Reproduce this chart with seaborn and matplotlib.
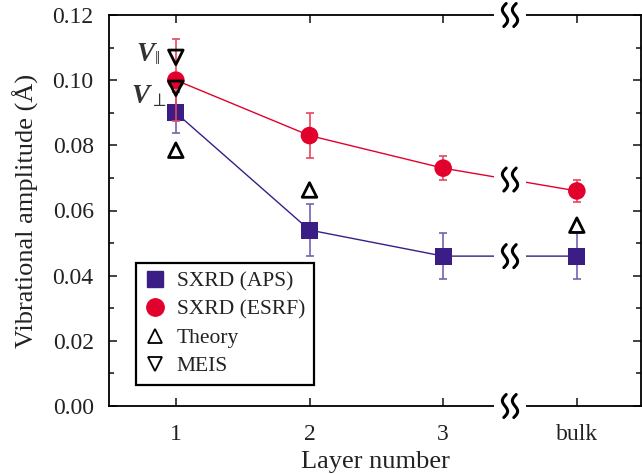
import matplotlib
matplotlib.use("Agg")
import matplotlib.pyplot as plt
import matplotlib.transforms as mtransforms
from matplotlib.lines import Line2D
from matplotlib.ticker import MultipleLocator, FormatStrFormatter
import numpy as np
import seaborn as sns

# Data
layer_labels = ["1", "2", "3", "bulk"]
layer_pos = [1, 2, 3, 4]
aps_amp = [0.090, 0.054, 0.046, 0.046]
aps_err = [0.0063, 0.008, 0.007, 0.007]
esrf_amp = [0.100, 0.083, 0.073, 0.066]
esrf_err = [0.0126, 0.007, 0.0037, 0.0035]
theory_pos = [1, 2, 4]
theory_amp = [0.0785, 0.0663, 0.0555]
meis_pos = [1, 1]
meis_amp = [0.107, 0.0975]

APS_COLOR = "#3b1d86"
APS_ERR_COLOR = "#7462b2"
ESRF_COLOR = "#e2002d"
ESRF_ERR_COLOR = "#e8475f"
TEXT_COLOR = "#222222"
BREAK_X = 3.5

sns.set_theme(style="ticks")
plt.rcParams["font.family"] = ["Liberation Serif", "DejaVu Serif"]
plt.rcParams["mathtext.fontset"] = "custom"
plt.rcParams["mathtext.rm"] = "Liberation Serif"
plt.rcParams["mathtext.it"] = "Liberation Serif:italic"
plt.rcParams["mathtext.bf"] = "Liberation Serif:bold"
plt.rcParams["mathtext.bfit"] = "Liberation Serif:italic:bold"
plt.rcParams["text.color"] = TEXT_COLOR
plt.rcParams["axes.labelcolor"] = TEXT_COLOR
plt.rcParams["xtick.color"] = TEXT_COLOR
plt.rcParams["ytick.color"] = TEXT_COLOR

fig = plt.figure(figsize=(6.42, 4.74), dpi=100)
ax = fig.add_axes([109 / 642, 1 - 406 / 474, 532 / 642, 391 / 474])

# connecting lines
sns.lineplot(x=layer_pos, y=aps_amp, ax=ax, color=APS_COLOR, linewidth=1.0, zorder=2)
sns.lineplot(x=layer_pos, y=esrf_amp, ax=ax, color=ESRF_COLOR, linewidth=1.0, zorder=2)

# white band for the axis break
ax.axvspan(BREAK_X - 0.123, BREAK_X + 0.123, ymin=-0.02, ymax=1.02, color="white",
           zorder=2.7, clip_on=False, linewidth=0)

ax.errorbar(layer_pos, aps_amp, yerr=aps_err, fmt="none", ecolor=APS_ERR_COLOR,
            elinewidth=1.2, capsize=3, capthick=1.2, zorder=3)
sns.scatterplot(x=layer_pos, y=aps_amp, ax=ax, marker="s", s=150, color=APS_COLOR,
                edgecolor="none", zorder=4)
ax.errorbar(layer_pos, esrf_amp, yerr=esrf_err, fmt="none", ecolor=ESRF_ERR_COLOR,
            elinewidth=1.2, capsize=3, capthick=1.2, zorder=5)
sns.scatterplot(x=layer_pos, y=esrf_amp, ax=ax, marker="o", s=160, color=ESRF_COLOR,
                edgecolor="none", zorder=6)
ax.scatter(theory_pos, theory_amp, marker="^", s=110, facecolors="none",
           edgecolors="black", linewidths=2.0, zorder=7)
ax.scatter(meis_pos, meis_amp, marker="v", s=110, facecolors="none",
           edgecolors="black", linewidths=2.0, zorder=7)

# V labels for the MEIS points
ax.text(0.792, 0.1080, r"$\mathbfit{V}_{\Vert}$", fontsize=19.5, color="#333333",
        ha="center", va="center", zorder=8)
ax.text(0.800, 0.0952, r"$\mathbfit{V}_{\perp}$", fontsize=19.5, color="#333333",
        ha="center", va="center", zorder=8)


def draw_break(y, base):
    trans = fig.dpi_scale_trans + mtransforms.ScaledTranslation(BREAK_X, y, base)
    t = np.linspace(-1, 1, 80)
    for dx in (-0.05, 0.05):
        xs = dx - 0.032 * np.sin(np.pi * t) + 0.012 * t
        ys = 0.115 * t
        ax.plot(xs, ys, color="black", linewidth=2.2, transform=trans,
                clip_on=False, zorder=9, solid_capstyle="round")


draw_break(0, ax.get_xaxis_transform())
draw_break(1, ax.get_xaxis_transform())
draw_break(aps_amp[3], ax.transData)
draw_break((esrf_amp[2] + esrf_amp[3]) / 2, ax.transData)

ax.set_xlim(0.5, 4.48)
ax.set_ylim(0, 0.12)
ax.set_xticks(layer_pos)
ax.set_xticklabels(layer_labels)
ax.yaxis.set_major_locator(MultipleLocator(0.02))
ax.yaxis.set_minor_locator(MultipleLocator(0.01))
ax.yaxis.set_major_formatter(FormatStrFormatter("%.2f"))
ax.tick_params(which="both", direction="in", top=True, right=True, width=1.2,
               labelsize=17)
ax.tick_params(axis="y", pad=11)
ax.tick_params(axis="x", pad=13)
ax.tick_params(which="major", length=6)
ax.tick_params(which="minor", length=3.5)
for sp in ax.spines.values():
    sp.set_linewidth(1.3)
    sp.set_color("black")

ax.set_xlabel("Layer number", fontsize=19, labelpad=4)
ax.set_ylabel("Vibrational amplitude (\u00c5)", fontsize=19, labelpad=10)

handles = [
    Line2D([], [], marker="s", ls="none", color=APS_COLOR, ms=12),
    Line2D([], [], marker="o", ls="none", color=ESRF_COLOR, ms=12.5),
    Line2D([], [], marker="^", ls="none", mfc="none", mec="black", mew=1.3, ms=10),
    Line2D([], [], marker="v", ls="none", mfc="none", mec="black", mew=1.3, ms=10),
]
labels = ["SXRD (APS)", "SXRD (ESRF)", "Theory", "MEIS"]
leg = ax.legend(handles, labels, loc="lower left", bbox_to_anchor=(0.0508, 0.0537),
                borderaxespad=0, frameon=True, fancybox=False, framealpha=1,
                edgecolor="black", fontsize=15.5, handlelength=1.0,
                handletextpad=0.5, labelspacing=0.38, borderpad=0.4)
leg.get_frame().set_linewidth(1.6)
leg.set_zorder(10)

fig.savefig("out.png", dpi=100)
